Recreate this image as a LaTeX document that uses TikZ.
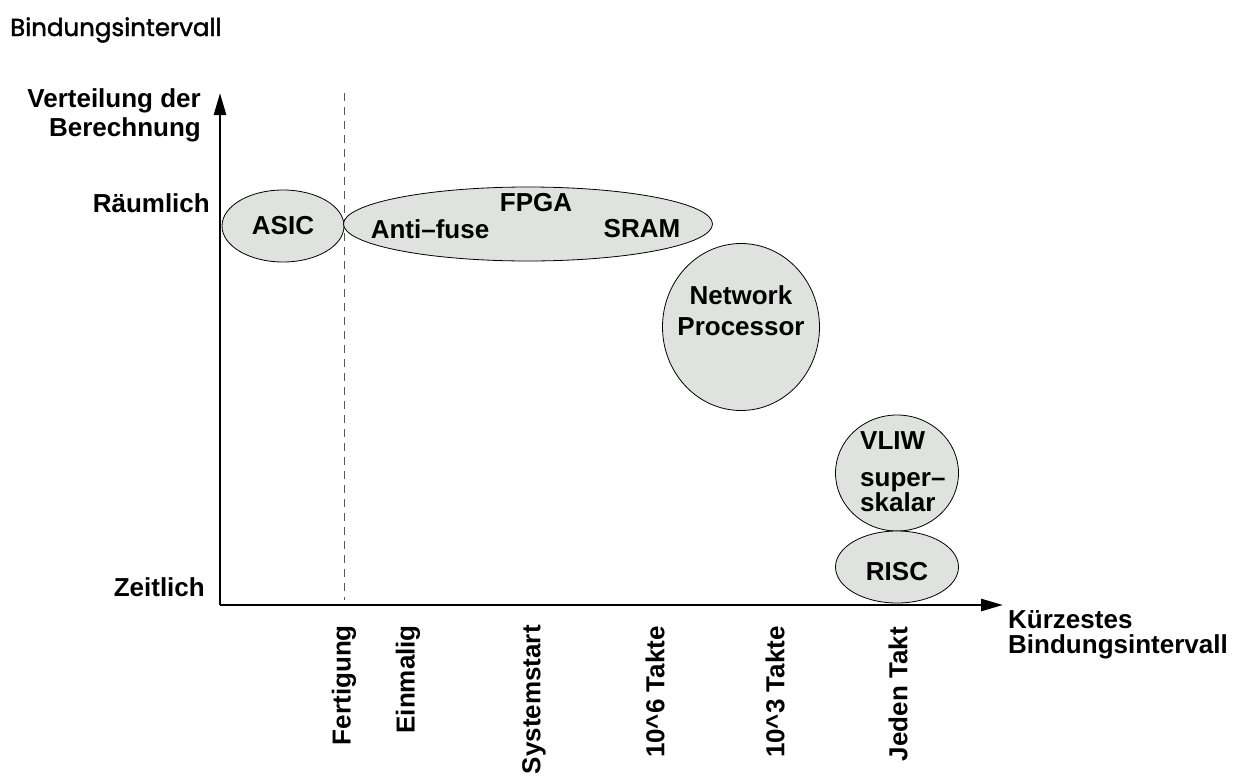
\documentclass[tikz,border=0pt]{standalone}
\usepackage{fontspec}
\setmainfont{Liberation Sans}
\newfontfamily\titlefont{Poppins}[FakeBold=1.6]
\usetikzlibrary{shapes.geometric,arrows.meta}
\definecolor{blobfill}{RGB}{223,226,222}
\begin{document}
\begin{tikzpicture}[x=1pt,y=-1pt,
  lbl/.style={font=\fontsize{26}{29}\selectfont\bfseries,inner sep=0pt},
  blob/.style={ellipse,draw=black,line width=0.8pt,fill=blobfill,inner sep=0pt},
  axis/.style={line width=2.6pt,-{Triangle[length=22pt,width=12pt]}},
  tick/.style={lbl,rotate=90,anchor=east}]
\useasboundingbox (0,0) rectangle (1238,776);
% title
\node[inner sep=0pt,anchor=west,font=\fontsize{24.5}{29}\titlefont] (title) at (10,30) {Bindungsintervall};
% axes
\coordinate (O) at (220,605);
\coordinate (ytip) at (220,93);
\coordinate (xtip) at (1003,605);
\draw[axis] (O) -- (ytip);
\draw[axis] (O) -- (xtip);
% dashed separator
\coordinate (dtop) at (344,93);
\coordinate (dbot) at (344,600);
\draw[gray!70!black,dashed,dash pattern=on 8pt off 6pt,line width=0.9pt] (dtop) -- (dbot);
% blobs
\node[blob,minimum width=122pt,minimum height=72pt] (asic) at (283,226) {};
\node[lbl] (asict) at (283,226) {ASIC};
\node[blob,minimum width=369pt,minimum height=74pt] (fpga) at (528,224) {};
\node[lbl] (fpgat) at (536,203) {FPGA};
\node[lbl] (anti) at (430,229) {Anti\textendash fuse};
\node[lbl] (sram) at (642,229) {SRAM};
\node[blob,minimum width=157pt,minimum height=167pt] (np) at (741,327) {};
\node[lbl,align=center,font=\fontsize{26}{31}\selectfont\bfseries] (npt) at (741,311) {Network\\Processor};
\node[blob,minimum width=123pt,minimum height=116pt] (vliw) at (897,473) {};
\node[lbl,anchor=west] (vliwt) at (860,441) {VLIW};
\node[lbl,align=left,anchor=west,font=\fontsize{26}{19}\selectfont\bfseries] (sup) at (860,492) {super\textendash\\skalar};
\node[blob,minimum width=123pt,minimum height=72pt] (risc) at (897,567) {};
\node[lbl] (risct) at (897,572) {RISC};
% axis labels
\node[lbl,align=right,anchor=east] (ylab) at (201,115) {Verteilung der\\Berechnung};
\node[lbl,anchor=east] (raum) at (210,203) {Räumlich};
\node[lbl,anchor=east] (zeit) at (205,587) {Zeitlich};
\node[lbl,align=left,anchor=west,font=\fontsize{26}{25}\selectfont\bfseries] (xlab) at (1008,635) {Kürzestes\\Bindungsintervall};
% tick labels
\node[tick] (t1) at (344,625) {Fertigung};
\node[tick] (t2) at (408,625) {Einmalig};
\node[tick] (t3) at (534,625) {Systemstart};
\node[tick] (t4) at (655,626) {10\^{}6 Takte};
\node[tick] (t5) at (775,626) {10\^{}3 Takte};
\node[tick] (t6) at (898,627) {Jeden Takt};
\end{tikzpicture}
\end{document}
